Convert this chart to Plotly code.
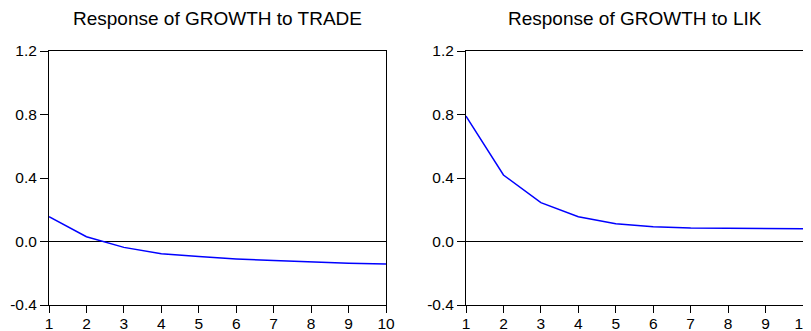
import plotly.graph_objects as go

periods = [1, 2, 3, 4, 5, 6, 7, 8, 9, 10]
trade_response = [0.156, 0.030, -0.037, -0.077, -0.095, -0.110, -0.120, -0.129, -0.137, -0.142]
lik_response = [0.790, 0.419, 0.245, 0.156, 0.112, 0.093, 0.085, 0.083, 0.082, 0.081]
titles = ["Response of GROWTH to TRADE", "Response of GROWTH to LIK"]
y_tickvals = [-0.4, 0.0, 0.4, 0.8, 1.2]
y_ticktext = ["-0.4", "0.0", "0.4", "0.8", "1.2"]
x_tickvals = periods
x_ticktext = [str(p) for p in periods]

FONT = "Liberation Sans, Arial, sans-serif"
# page body has an 8px margin, so the figure is offset by 8px
OFF = 8
W, H = 811 - OFF, 331 - OFF
ML, MT = 49 - OFF, 51 - OFF
MR = W - (803 - OFF)
MB = H - (305 - OFF)
PW = W - ML - MR
PH = H - MT - MB

fig = go.Figure()
domains = [(0.0, (386 - OFF - ML) / PW), ((466 - OFF - ML) / PW, 1.0)]
series = [trade_response, lik_response]

for i, (vals, title) in enumerate(zip(series, titles)):
    xa = "x" if i == 0 else "x2"
    ya = "y" if i == 0 else "y2"
    fig.add_trace(go.Scatter(x=periods, y=vals, mode="lines",
                             line=dict(color="#0000FF", width=1.5),
                             xaxis=xa, yaxis=ya, showlegend=False))
    axis_common = dict(showline=True, linecolor="black", linewidth=1, mirror=True,
                       showgrid=False, ticks="outside", tickcolor="black",
                       tickwidth=1, automargin=False, ticklabeloverflow="allow",
                       tickfont=dict(family=FONT, size=15.5, color="black"))
    xkey = "xaxis" if i == 0 else "xaxis2"
    ykey = "yaxis" if i == 0 else "yaxis2"
    fig.update_layout(**{
        xkey: dict(domain=list(domains[i]), range=[1, 10], tickvals=x_tickvals,
                   ticktext=x_ticktext, zeroline=False, anchor=ya, ticklen=7,
                   ticklabelstandoff=-3, **axis_common),
        ykey: dict(domain=[0, 1], range=[-0.4, 1.2], tickvals=y_tickvals,
                   ticktext=y_ticktext, zeroline=True, zerolinecolor="black",
                   zerolinewidth=1, anchor=xa, ticklen=8, **axis_common),
    })
    fig.add_annotation(text=title, xref="paper", yref="paper",
                       x=(domains[i][0] + domains[i][1]) / 2, y=1 + (MT - (18 - OFF)) / PH,
                       xanchor="center", yanchor="middle", showarrow=False,
                       font=dict(family=FONT, size=19, color="black"))

fig.update_layout(width=W, height=H, margin=dict(l=ML, r=MR, t=MT, b=MB, pad=0),
                  paper_bgcolor="white", plot_bgcolor="white")
fig.write_html("out.html")
